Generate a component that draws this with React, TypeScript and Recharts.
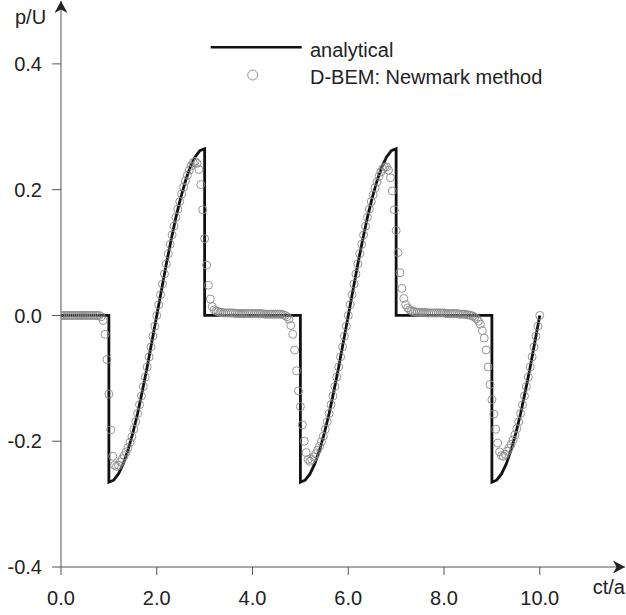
import { ComposedChart, Line, Scatter, XAxis, YAxis, Legend } from "recharts";

// analytical solution: [ct/a, p/U] (vertical jumps as repeated t)
const ANALYTIC: [number, number][] = [
  [0, 0], [1, 0],
  [1, -0.265], [1.1, -0.262], [1.2, -0.252], [1.3, -0.236], [1.4, -0.214], [1.5, -0.187], [1.6, -0.156],
  [1.7, -0.12], [1.8, -0.082], [1.9, -0.041], [2, 0], [2.1, 0.041], [2.2, 0.082], [2.3, 0.12],
  [2.4, 0.156], [2.5, 0.187], [2.6, 0.214], [2.7, 0.236], [2.8, 0.252], [2.9, 0.262], [3, 0.265],
  [3, 0], [5, 0],
  [5, -0.265], [5.1, -0.262], [5.2, -0.252], [5.3, -0.236], [5.4, -0.214], [5.5, -0.187], [5.6, -0.156],
  [5.7, -0.12], [5.8, -0.082], [5.9, -0.041], [6, 0], [6.1, 0.041], [6.2, 0.082], [6.3, 0.12],
  [6.4, 0.156], [6.5, 0.187], [6.6, 0.214], [6.7, 0.236], [6.8, 0.252], [6.9, 0.262], [7, 0.265],
  [7, 0], [9, 0],
  [9, -0.265], [9.1, -0.262], [9.2, -0.252], [9.3, -0.236], [9.4, -0.214], [9.5, -0.187], [9.6, -0.156],
  [9.7, -0.12], [9.8, -0.082], [9.9, -0.041], [10, 0],
];

// D-BEM (Newmark) results, one value every BEM_DT from ct/a = 0 to 10
const BEM_DT = 0.04;
const BEM_P = [
  0, 0, 0, 0, 0, 0, 0, 0, 0, 0, // 0.00
  0, 0, 0, 0, 0, 0, 0, 0, 0, 0, // 0.40
  0, -0.002, -0.008, -0.03, -0.07, -0.125, -0.182, -0.224, -0.238, -0.24, // 0.80
  -0.238, -0.233, -0.228, -0.223, -0.217, -0.21, -0.202, -0.193, -0.181, -0.169, // 1.20
  -0.156, -0.142, -0.128, -0.113, -0.098, -0.082, -0.066, -0.05, -0.033, -0.017, // 1.60
  0, 0.017, 0.033, 0.05, 0.066, 0.082, 0.098, 0.113, 0.128, 0.142, // 2.00
  0.156, 0.169, 0.181, 0.193, 0.204, 0.214, 0.223, 0.231, 0.238, 0.243, // 2.40
  0.245, 0.242, 0.232, 0.208, 0.168, 0.122, 0.08, 0.048, 0.026, 0.014, // 2.80
  0.009, 0.007, 0.006, 0.005, 0.005, 0.004, 0.004, 0.004, 0.004, 0.004, // 3.20
  0.004, 0.003, 0.003, 0.003, 0.003, 0.003, 0.003, 0.003, 0.003, 0.003, // 3.60
  0.003, 0.003, 0.003, 0.003, 0.003, 0.003, 0.002, 0.002, 0.002, 0.002, // 4.00
  0.002, 0.002, 0.002, 0.002, 0.002, 0.002, 0.001, 0, -0.002, -0.006, // 4.40
  -0.016, -0.03, -0.055, -0.088, -0.12, -0.145, -0.174, -0.2, -0.218, -0.229, // 4.80
  -0.232, -0.229, -0.225, -0.22, -0.214, -0.208, -0.201, -0.192, -0.181, -0.169, // 5.20
  -0.156, -0.142, -0.128, -0.113, -0.098, -0.082, -0.066, -0.05, -0.033, -0.017, // 5.60
  0, 0.017, 0.033, 0.05, 0.066, 0.082, 0.098, 0.113, 0.128, 0.142, // 6.00
  0.156, 0.169, 0.181, 0.192, 0.203, 0.212, 0.221, 0.228, 0.233, 0.236, // 6.40
  0.236, 0.231, 0.219, 0.198, 0.168, 0.135, 0.1, 0.068, 0.043, 0.027, // 6.80
  0.017, 0.012, 0.009, 0.007, 0.006, 0.006, 0.005, 0.005, 0.005, 0.005, // 7.20
  0.005, 0.004, 0.004, 0.004, 0.004, 0.004, 0.004, 0.004, 0.004, 0.004, // 7.60
  0.004, 0.003, 0.003, 0.003, 0.003, 0.003, 0.003, 0.003, 0.002, 0.002, // 8.00
  0.002, 0.002, 0.001, 0.001, 0, -0.001, -0.003, -0.005, -0.009, -0.014, // 8.40
  -0.024, -0.036, -0.055, -0.082, -0.11, -0.134, -0.157, -0.181, -0.203, -0.217, // 8.80
  -0.223, -0.224, -0.221, -0.216, -0.211, -0.205, -0.198, -0.19, -0.18, -0.169, // 9.20
  -0.156, -0.142, -0.128, -0.113, -0.098, -0.082, -0.066, -0.05, -0.033, -0.017, // 9.60
  0, // 10.00
];

const X_TICKS = [0, 2, 4, 6, 8, 10];
const Y_TICKS = [-0.4, -0.2, 0, 0.2, 0.4];
const SERIES_NAMES = ["analytical", "D-BEM: Newmark method"];

const FONT = "'Liberation Sans', Arial, sans-serif";
const AXIS = "#555";
const TXT = "#222";

const analyticData = ANALYTIC.map(([t, p]) => ({ t, p }));
const bemData = BEM_P.map((p, i) => ({ t: i * BEM_DT, p }));

const ring = (props: any) => (
  <circle cx={props.cx} cy={props.cy} r={4} fill="none" stroke="#8a8a8a" strokeWidth={0.9} />
);

const legendBox = () => (
  <svg width={400} height={70} style={{ display: "block", overflow: "visible" }}>
    <line x1={10.7} y1={17.3} x2={101.7} y2={17.3} stroke="#111" strokeWidth={2.6} />
    <text x={110} y={26.5} fontSize={20} fontFamily={FONT} fill={TXT}>{SERIES_NAMES[0]}</text>
    <circle cx={52.7} cy={45} r={5} fill="none" stroke="#8a8a8a" strokeWidth={0.9} />
    <text x={110} y={54} fontSize={20} fontFamily={FONT} fill={TXT}>{SERIES_NAMES[1]}</text>
  </svg>
);

export default function App() {
  return (
    <div style={{ position: "absolute", left: 0, top: 0, background: "#fff" }}>
      <svg width={0} height={0} style={{ position: "absolute" }}>
        <defs>
          <marker id="axArrow" viewBox="0 0 12 13" refX={12} refY={6.5} markerWidth={12} markerHeight={13}
            markerUnits="userSpaceOnUse" orient="auto-start-reverse">
            <path d="M0,0 L12,6.5 L0,13 L3.5,6.5 Z" fill="#222" />
          </marker>
        </defs>
      </svg>
      <ComposedChart width={626} height={615} margin={{ top: 1, right: 1, bottom: 8, left: 1 }}>
        <XAxis
          dataKey="t"
          type="number"
          domain={[0, 11.78]}
          allowDataOverflow
          ticks={X_TICKS}
          tickFormatter={(v: number) => v.toFixed(1)}
          height={40}
          tickSize={8}
          tickMargin={16}
          tick={{ fill: TXT, fontSize: 20, fontFamily: FONT }}
          tickLine={{ stroke: AXIS }}
          axisLine={{ stroke: AXIS, markerEnd: "url(#axArrow)" }}
          label={{
            content: (p: any) => {
              const vb = p.viewBox || { x: 61, y: 567, width: 564 };
              return (
                <text x={vb.x + vb.width} y={vb.y + 27} textAnchor="end" fontSize={20} fontFamily={FONT} fill={TXT}>
                  ct/a
                </text>
              );
            },
          }}
        />
        <YAxis
          dataKey="p"
          type="number"
          domain={[-0.4, 0.5]}
          allowDataOverflow
          ticks={Y_TICKS}
          tickFormatter={(v: number) => v.toFixed(1)}
          width={60}
          tickSize={9}
          tickMargin={10}
          tick={{ fill: TXT, fontSize: 20, fontFamily: FONT }}
          tickLine={{ stroke: AXIS }}
          axisLine={{ stroke: AXIS, markerStart: "url(#axArrow)" }}
          label={{
            content: (p: any) => {
              const vb = p.viewBox || { x: 1, y: 1 };
              return (
                <text x={vb.x + 14} y={vb.y + 23} fontSize={20} fontFamily={FONT} fill={TXT}>
                  p/U
                </text>
              );
            },
          }}
        />
        <Legend
          layout="vertical"
          align="center"
          verticalAlign="middle"
          content={legendBox}
          wrapperStyle={{ left: 200, top: 30, width: 400, height: 70 }}
        />
        <Line
          data={analyticData}
          dataKey="p"
          name={SERIES_NAMES[0]}
          type="linear"
          stroke="#111"
          strokeWidth={2.8}
          dot={false}
          activeDot={false}
          isAnimationActive={false}
        />
        <Scatter
          data={bemData}
          dataKey="p"
          name={SERIES_NAMES[1]}
          shape={ring}
          isAnimationActive={false}
        />
      </ComposedChart>
    </div>
  );
}
